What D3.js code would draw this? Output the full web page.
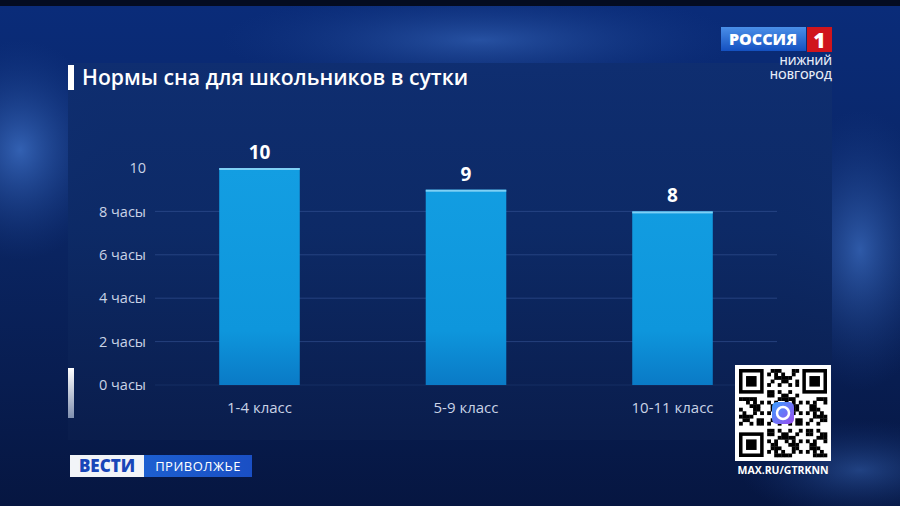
<!DOCTYPE html>
<html><head><meta charset="utf-8">
<script src="https://cdn.jsdelivr.net/npm/d3@7"></script>
<style>html,body{margin:0;padding:0;background:#071a4a;overflow:hidden}svg{display:block}</style>
</head><body><svg id="c" width="900" height="506"></svg>
<script>
const title = "Нормы сна для школьников в сутки";
const categories = ["1-4 класс", "5-9 класс", "10-11 класс"];
const values = [10, 9, 8];
const valueLabels = ["10", "9", "8"];
const yTicks = [0, 2, 4, 6, 8, 10];
const yTickLabels = ["0 часы", "2 часы", "4 часы", "6 часы", "8 часы", "10"];
const gridTicks = [2, 4, 6, 8];

const svg = d3.select("#c");
const defs = svg.append("defs");

// background gradients
const bg = defs.append("linearGradient").attr("id","bg").attr("x1",0).attr("y1",0).attr("x2",0).attr("y2",1);
bg.append("stop").attr("offset",0).attr("stop-color","#0a2c7a");
bg.append("stop").attr("offset",0.5).attr("stop-color","#0a2460");
bg.append("stop").attr("offset",1).attr("stop-color","#061641");
svg.append("rect").attr("width",900).attr("height",506).attr("fill","url(#bg)");

const glow = defs.append("radialGradient").attr("id","glowL").attr("cx",0.5).attr("cy",0.5).attr("r",0.5);
glow.append("stop").attr("offset",0).attr("stop-color","#3d6fc4").attr("stop-opacity",0.8);
glow.append("stop").attr("offset",1).attr("stop-color","#1a3f8a").attr("stop-opacity",0);
svg.append("ellipse").attr("cx",20).attr("cy",150).attr("rx",90).attr("ry",110).attr("fill","url(#glowL)");
svg.append("ellipse").attr("cx",480).attr("cy",40).attr("rx",260).attr("ry",50).attr("fill","url(#glowL)").attr("opacity",0.7);
svg.append("ellipse").attr("cx",860).attr("cy",250).attr("rx",80).attr("ry",140).attr("fill","url(#glowL)").attr("opacity",0.9);
svg.append("ellipse").attr("cx",860).attr("cy",470).attr("rx",120).attr("ry",50).attr("fill","url(#glowL)").attr("opacity",0.6);
svg.append("rect").attr("width",900).attr("height",6).attr("fill","#040c20");

// panel
const pg = defs.append("linearGradient").attr("id","panel").attr("x1",0).attr("y1",0).attr("x2",0).attr("y2",1);
pg.append("stop").attr("offset",0).attr("stop-color","#0f2e70");
pg.append("stop").attr("offset",0.45).attr("stop-color","#0d2a66");
pg.append("stop").attr("offset",1).attr("stop-color","#0a1d4c");
svg.append("rect").attr("x",68).attr("y",63).attr("width",764).attr("height",377).attr("fill","url(#panel)").attr("opacity",0.95);

// title
svg.append("rect").attr("x",68).attr("y",65).attr("width",6).attr("height",25).attr("fill","#ffffff");
svg.append("text").attr("x",82).attr("y",84.5).attr("fill","#ffffff")
  .attr("font-family","'Open Sans', sans-serif").attr("font-weight",600).attr("font-size",21.2)
  .text(title);

// decorative left bar
const lb = defs.append("linearGradient").attr("id","lb").attr("x1",0).attr("y1",0).attr("x2",0).attr("y2",1);
lb.append("stop").attr("offset",0).attr("stop-color","#ffffff");
lb.append("stop").attr("offset",1).attr("stop-color","#8090b0");
svg.append("rect").attr("x",68).attr("y",368).attr("width",6).attr("height",50).attr("fill","url(#lb)");

// scales
const x = d3.scaleBand().domain(categories).range([155, 777]).paddingInner(0.61).paddingOuter(0.311);
const y = d3.scaleLinear().domain([0, 10]).range([385, 168]);

// gridlines
svg.append("g").selectAll("line").data(gridTicks).join("line")
  .attr("x1",155).attr("x2",777).attr("y1",d=>y(d)).attr("y2",d=>y(d))
  .attr("stroke","#3a5a9a").attr("stroke-opacity",0.55).attr("stroke-width",1);
svg.append("line").attr("x1",155).attr("x2",777).attr("y1",y(0)).attr("y2",y(0))
  .attr("stroke","#3a5a9a").attr("stroke-opacity",0.25);

// y axis
const yAxis = d3.axisLeft(y).tickValues(yTicks).tickSize(0).tickPadding(0)
  .tickFormat((d,i)=>yTickLabels[yTicks.indexOf(d)]);
const ya = svg.append("g").attr("transform","translate(146,0)").call(yAxis);
ya.select(".domain").remove();
ya.selectAll("text").attr("fill","#c9d3e6").attr("font-family","'Open Sans', sans-serif")
  .attr("font-size",14.5).attr("dy","0.32em");

// bars
const bgrad = defs.append("linearGradient").attr("id","bar").attr("x1",0).attr("y1",0).attr("x2",0).attr("y2",1).attr("gradientUnits","userSpaceOnUse")
  .attr("y1",168).attr("y2",385);
bgrad.append("stop").attr("offset",0).attr("stop-color","#139ee2");
bgrad.append("stop").attr("offset",0.75).attr("stop-color","#0e96dc");
bgrad.append("stop").attr("offset",1).attr("stop-color","#0a7ac6");
const bars = svg.append("g");
bars.selectAll("rect.b").data(values).join("rect").attr("class","b")
  .attr("x",(d,i)=>x(categories[i])).attr("width",x.bandwidth())
  .attr("y",d=>y(d)).attr("height",d=>y(0)-y(d)).attr("fill","url(#bar)");
bars.selectAll("rect.t").data(values).join("rect").attr("class","t")
  .attr("x",(d,i)=>x(categories[i])).attr("width",x.bandwidth())
  .attr("y",d=>y(d)).attr("height",2).attr("fill","#7fd0f5");

// value labels
svg.append("g").selectAll("text").data(values).join("text")
  .attr("x",(d,i)=>x(categories[i])+x.bandwidth()/2).attr("y",d=>y(d)-9)
  .attr("text-anchor","middle").attr("fill","#ffffff")
  .attr("font-family","'Open Sans', sans-serif").attr("font-weight",700).attr("font-size",19)
  .text((d,i)=>valueLabels[i]);

// x axis labels
const xAxis = d3.axisBottom(x).tickSize(0).tickPadding(0);
const xa = svg.append("g").attr("transform","translate(0,408)").call(xAxis);
xa.select(".domain").remove();
xa.selectAll("text").attr("fill","#c9d3e6").attr("font-family","'Open Sans', sans-serif")
  .attr("font-size",15).attr("dy","0.35em");

// РОССИЯ 1 logo
const lg = defs.append("linearGradient").attr("id","rus").attr("x1",0).attr("y1",0).attr("x2",0).attr("y2",1);
lg.append("stop").attr("offset",0).attr("stop-color","#4a8fe8");
lg.append("stop").attr("offset",1).attr("stop-color","#1450c0");
svg.append("rect").attr("x",721).attr("y",27).attr("width",85).attr("height",24).attr("fill","url(#rus)");
svg.append("rect").attr("x",807).attr("y",27).attr("width",25).attr("height",25).attr("fill","#d0151c");
svg.append("text").attr("x",763).attr("y",45).attr("text-anchor","middle").attr("fill","#fff")
  .attr("font-family","'Open Sans', sans-serif").attr("font-weight",800).attr("font-size",16).text("РОССИЯ");
svg.append("text").attr("x",819.5).attr("y",48).attr("text-anchor","middle").attr("fill","#fff")
  .attr("font-family","'Open Sans', sans-serif").attr("font-weight",800).attr("font-size",21).text("1");
svg.append("text").attr("x",832).attr("y",65).attr("text-anchor","end").attr("fill","#e6ecf6")
  .attr("font-family","'Open Sans', sans-serif").attr("font-weight",600).attr("font-size",11).text("НИЖНИЙ");
svg.append("text").attr("x",832).attr("y",78.5).attr("text-anchor","end").attr("fill","#e6ecf6")
  .attr("font-family","'Open Sans', sans-serif").attr("font-weight",600).attr("font-size",11).text("НОВГОРОД");

// ВЕСТИ logo
svg.append("rect").attr("x",70).attr("y",455).attr("width",74).attr("height",22).attr("fill","#f2f4f8");
const vg = defs.append("linearGradient").attr("id","vg").attr("x1",0).attr("y1",0).attr("x2",1).attr("y2",0);
vg.append("stop").attr("offset",0).attr("stop-color","#1d5fd0");
vg.append("stop").attr("offset",1).attr("stop-color","#1a4fc4");
svg.append("rect").attr("x",144).attr("y",455).attr("width",108).attr("height",22).attr("fill","url(#vg)");
svg.append("text").attr("x",107).attr("y",472).attr("text-anchor","middle").attr("fill","#1846b8")
  .attr("font-family","'Open Sans', sans-serif").attr("font-weight",800).attr("font-size",17).text("ВЕСТИ");
svg.append("text").attr("x",198).attr("y",471).attr("text-anchor","middle").attr("fill","#fff")
  .attr("font-family","'Open Sans', sans-serif").attr("font-weight",500).attr("font-size",13).attr("letter-spacing",0.5).text("ПРИВОЛЖЬЕ");

// QR code decoration
const qx = 735, qy = 365, qs = 96;
svg.append("rect").attr("x",qx).attr("y",qy).attr("width",qs).attr("height",qs).attr("fill","#fff");
const n = 25, m = (qs-8)/n, ox = qx+4, oy = qy+4;
const qg = svg.append("g");
function finder(cx, cy){
  qg.append("rect").attr("x",ox+cx*m).attr("y",oy+cy*m).attr("width",7*m).attr("height",7*m).attr("fill","#000");
  qg.append("rect").attr("x",ox+(cx+1)*m).attr("y",oy+(cy+1)*m).attr("width",5*m).attr("height",5*m).attr("fill","#fff");
  qg.append("rect").attr("x",ox+(cx+2)*m).attr("y",oy+(cy+2)*m).attr("width",3*m).attr("height",3*m).attr("fill","#000");
}
for(let i=0;i<n;i++)for(let j=0;j<n;j++){
  const inF = (i<8&&j<8)||(i>=n-8&&j<8)||(i<8&&j>=n-8);
  if(inF) continue;
  if(((i*31+j*17+i*j*7)%11)<5) qg.append("rect").attr("x",ox+i*m).attr("y",oy+j*m).attr("width",m+0.3).attr("height",m+0.3).attr("fill","#000");
}
finder(0,0); finder(n-7,0); finder(0,n-7);
const ig = defs.append("linearGradient").attr("id","ig").attr("x1",0).attr("y1",0).attr("x2",1).attr("y2",1);
ig.append("stop").attr("offset",0).attr("stop-color","#3aa0ff");
ig.append("stop").attr("offset",1).attr("stop-color","#9a4cf0");
svg.append("rect").attr("x",qx+qs/2-11).attr("y",qy+qs/2-11).attr("width",22).attr("height",22).attr("rx",5).attr("fill","url(#ig)");
svg.append("circle").attr("cx",qx+qs/2).attr("cy",qy+qs/2).attr("r",6).attr("fill","none").attr("stroke","#fff").attr("stroke-width",2.5);
svg.append("text").attr("x",qx+qs/2).attr("y",474).attr("text-anchor","middle").attr("fill","#fff")
  .attr("font-family","'Open Sans', sans-serif").attr("font-weight",700).attr("font-size",10.5).text("MAX.RU/GTRKNN");
</script></body></html>
